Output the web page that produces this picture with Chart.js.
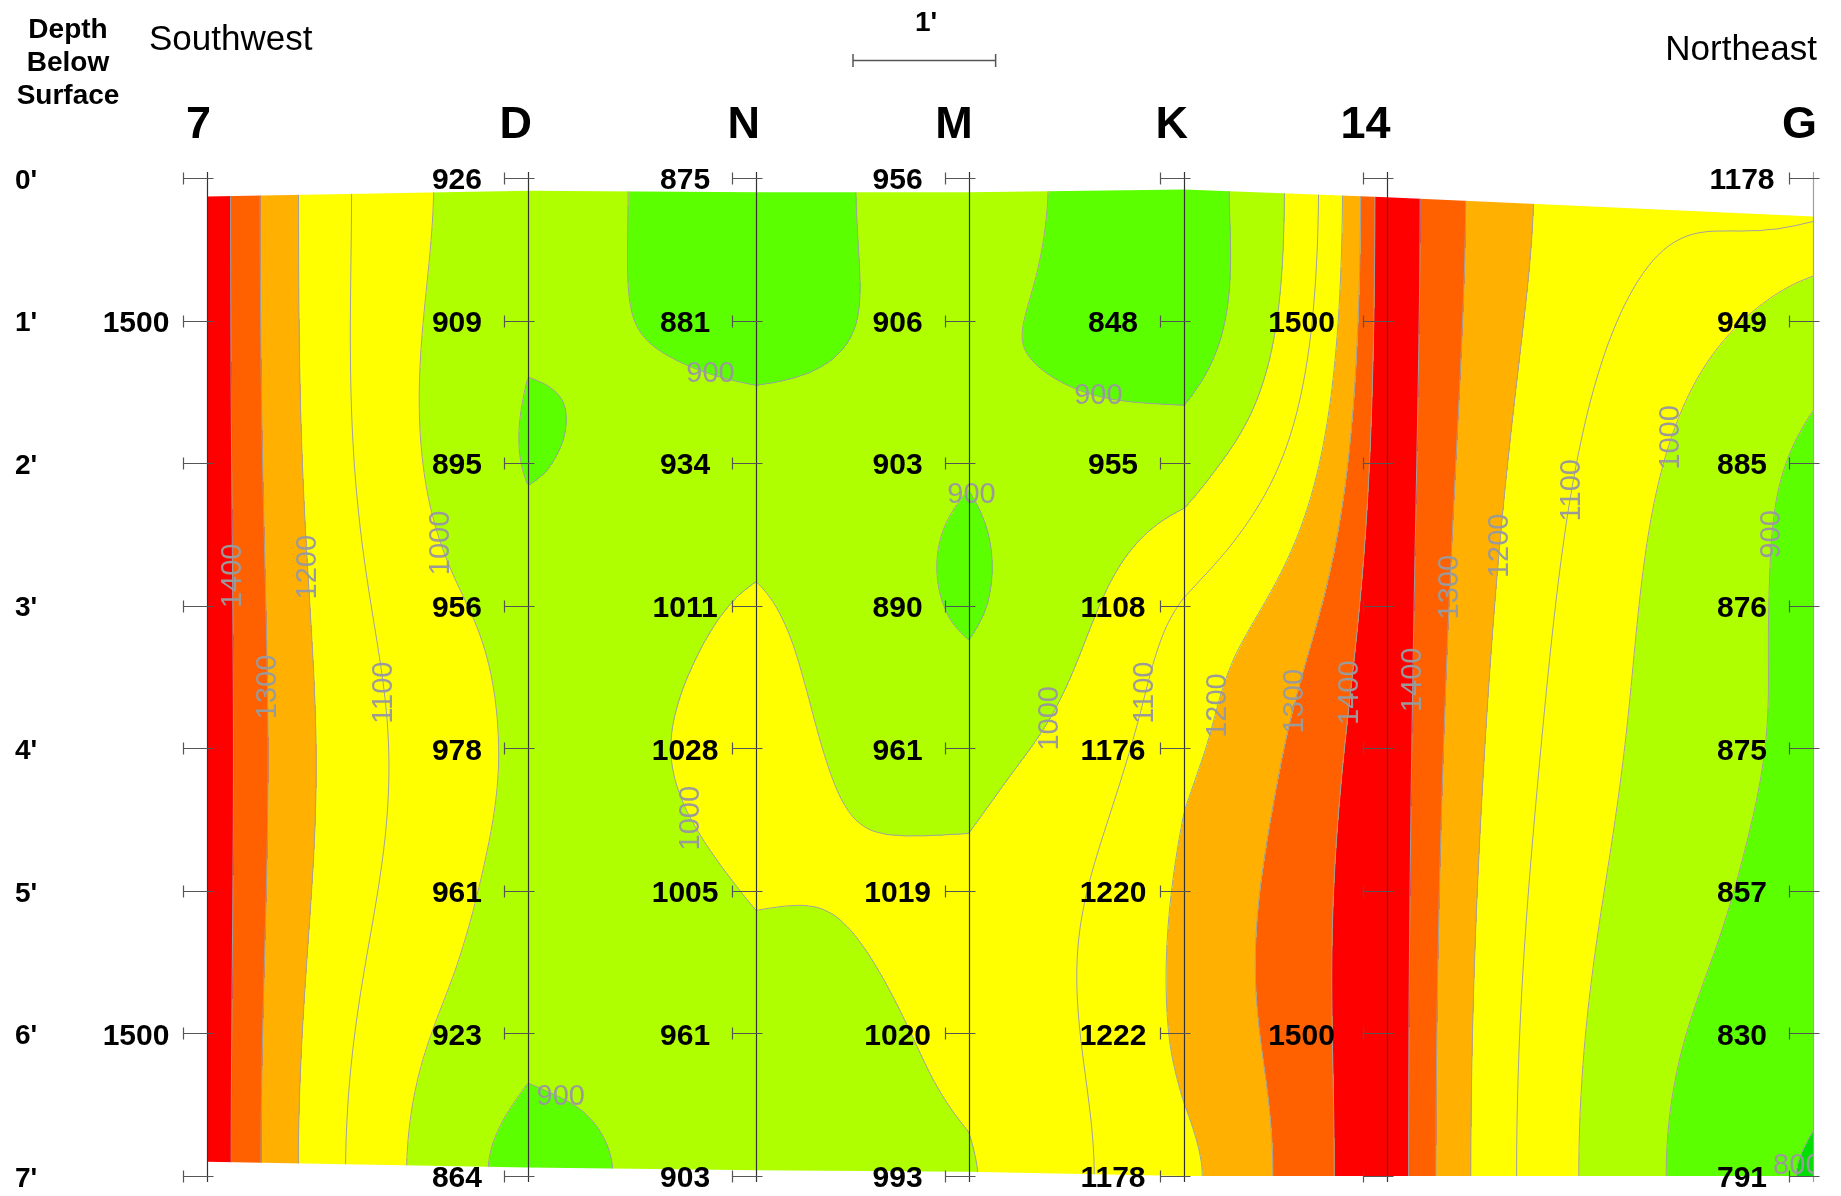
<!DOCTYPE html>
<html>
<head>
<meta charset="utf-8">
<script src="https://cdn.jsdelivr.net/npm/chart.js@4.4.0/dist/chart.umd.min.js"></script>
<style>
  html, body { margin: 0; padding: 0; background: #fff; }
</style>
</head>
<body>
<canvas id="section" width="1841" height="1196"></canvas>
<script>
// boreholes along the section, southwest -> northeast
const boreholes = ['7', 'D', 'N', 'M', 'K', '14', 'G'];
// position of each borehole along the section, feet from borehole 7
const boreholeFt = [0, 2.25, 3.85, 5.34, 6.85, 8.27, 11.26];
// depth of the readings, feet below surface
const depthsFt = [0, 1, 2, 3, 4, 5, 6, 7];
const depthLabels = ["0'", "1'", "2'", "3'", "4'", "5'", "6'", "7'"];

// readings per borehole (null = no number printed on the section)
const reading7  = [null, 1500, null, null, null, null, 1500, null];
const readingD  = [926, 909, 895, 956, 978, 961, 923, 864];
const readingN  = [875, 881, 934, 1011, 1028, 1005, 961, 903];
const readingM  = [956, 906, 903, 890, 961, 1019, 1020, 993];
const readingK  = [null, 848, 955, 1108, 1176, 1220, 1222, 1178];
const reading14 = [null, 1500, null, null, null, null, 1500, null];
const readingG  = [1178, 949, 885, 876, 875, 857, 830, 791];
const readings = [reading7, readingD, readingN, readingM, readingK, reading14, readingG];

// top (ground surface) and bottom of the shaded section at each borehole, feet
const surfaceTopFt    = [0.13, 0.09, 0.10, 0.10, 0.08, 0.135, 0.27];
const surfaceBottomFt = [6.90, 6.94, 6.96, 6.97, 7.0, 7.0, 7.0];

// contour levels and the fill between them
const contourLevels = [800, 900, 1000, 1100, 1200, 1300, 1400];
const bandColors = ['#00e000', '#5cff00', '#b0ff00', '#ffff00', '#ffff00', '#ffb000', '#ff6000', '#ff0000'];

// upright contour labels: level, depth, and the gap (between borehole i and i+1) they sit in
const riseLabelLevel = [1400, 1300, 1200, 1100, 1000, 1000, 1000, 1100, 1200, 1300, 1400, 1400, 1300, 1200, 1100, 1000, 900];
const riseLabelDepth = [2.79, 3.57, 2.73, 3.61, 2.56, 4.49, 3.79, 3.61, 3.70, 3.67, 3.61, 3.52, 2.87, 2.58, 2.19, 1.82, 2.50];
const riseLabelGap   = [0, 0, 0, 0, 0, 1, 3, 3, 4, 4, 4, 5, 5, 5, 5, 5, 5];
// flat contour labels on the closed lows: level, position along section, depth to start looking
const flatLabelLevel = [900, 900, 900, 900, 800];
const flatLabelFt    = [3.53, 6.25, 5.36, 2.48, 11.15];
const flatLabelFrom  = [0.5, 0.5, 1.5, 5.5, 5.5];

// gridding: values are blended in 1/(v - SHIFT) so that the highs fall off fast,
// and each log is smoothed more the further it is from the point being gridded
const SHIFT = 550;
const SPREAD = 0.8;
const toG = v => 1 / (v - SHIFT);
const fromG = g => SHIFT + 1 / g;

// fill the gaps of a borehole log: straight line between the readings
// above and below, last reading carried on past the ends
function columnProfile(vals) {
  return vals.map((v, k) => {
    if (v !== null) return v;
    let up = k - 1; while (up >= 0 && vals[up] === null) up--;
    let dn = k + 1; while (dn < vals.length && vals[dn] === null) dn++;
    if (up < 0) return vals[dn];
    if (dn >= vals.length) return vals[up];
    const t = (depthsFt[k] - depthsFt[up]) / (depthsFt[dn] - depthsFt[up]);
    return vals[up] + t * (vals[dn] - vals[up]);
  });
}

// Catmull-Rom through one log (in blend space)
function smoothLog(g, d) {
  const last = g.length - 1;
  d = Math.max(depthsFt[0], Math.min(depthsFt[last], d));
  const k = Math.min(last - 1, Math.floor(d));
  const t = d - depthsFt[k];
  const p0 = g[Math.max(0, k - 1)], p1 = g[k], p2 = g[k + 1], p3 = g[Math.min(last, k + 2)];
  return 0.5 * (2 * p1 + (-p0 + p2) * t + (2 * p0 - 5 * p1 + 4 * p2 - p3) * t * t + (-p0 + 3 * p1 - 3 * p2 + p3) * t * t * t);
}

// tables: log b, blur level s (sigma = s * SIG_STEP ft), depth sample i (DD ft)
const DD = 0.04, SIG_STEP = 0.1, SIG_LEVELS = 31;
const nDepth = Math.round(7 / DD) + 1;
const tables = readings.map(col => {
  const g = columnProfile(col).map(toG);
  const base = [];
  for (let i = 0; i < nDepth; i++) base.push(smoothLog(g, i * DD));
  const levels = [Float64Array.from(base)];
  for (let s = 1; s < SIG_LEVELS; s++) {
    const sig = s * SIG_STEP / DD;
    const half = Math.ceil(3 * sig);
    const out = new Float64Array(nDepth);
    for (let i = 0; i < nDepth; i++) {
      let sum = 0, wsum = 0;
      for (let o = -half; o <= half; o++) {
        let j = i + o;
        while (j < 0 || j >= nDepth) j = j < 0 ? -j : 2 * (nDepth - 1) - j;
        const w = Math.exp(-0.5 * (o / sig) * (o / sig));
        sum += w * base[j]; wsum += w;
      }
      out[i] = sum / wsum;
    }
    levels.push(out);
  }
  return levels;
});

function logAt(b, d, sigFt) {
  const fs = Math.min(SIG_LEVELS - 1, sigFt / SIG_STEP);
  const s0 = Math.min(SIG_LEVELS - 2, Math.floor(fs)), ts = fs - s0;
  const fi = Math.max(0, Math.min(nDepth - 1, d / DD));
  const i0 = Math.min(nDepth - 2, Math.floor(fi)), ti = fi - i0;
  const A = tables[b][s0], B = tables[b][s0 + 1];
  const a = A[i0] * (1 - ti) + A[i0 + 1] * ti;
  const c = B[i0] * (1 - ti) + B[i0 + 1] * ti;
  return a * (1 - ts) + c * ts;
}

function field(x, d) {
  let b = 0;
  while (b < boreholeFt.length - 2 && x > boreholeFt[b + 1]) b++;
  const x0 = boreholeFt[b], x1 = boreholeFt[b + 1];
  const dl = Math.max(0, Math.min(x1 - x0, x - x0)), dr = (x1 - x0) - dl;
  const t = dl / (x1 - x0);
  const g = logAt(b, d, SPREAD * dl) * (1 - t) + logAt(b + 1, d, SPREAD * dr) * t;
  return fromG(g);
}

function bandOf(v) {
  let k = 0;
  while (k < contourLevels.length && v >= contourLevels[k]) k++;
  return k;
}

function findCrossingX(level, d, x0, x1) {
  const step = 0.005;
  let prev = field(x0, d) - level;
  for (let x = x0 + step; x <= x1; x += step) {
    const cur = field(x, d) - level;
    if ((prev < 0) !== (cur < 0)) return x - step + step * prev / (prev - cur);
    prev = cur;
  }
  return null;
}
function findCrossingD(level, x, d0, d1) {
  const step = 0.005;
  let prev = field(x, d0) - level;
  for (let d = d0 + step; d <= d1; d += step) {
    const cur = field(x, d) - level;
    if ((prev < 0) !== (cur < 0)) return d - step + step * prev / (prev - cur);
    prev = cur;
  }
  return null;
}

const FONT = '"Liberation Sans", Arial, sans-serif';
// horizontal place of the printed readings, px left of each borehole line
const readingOffsetPx = [71, 71, 71, 71, 71, 85, 71];

const sectionPlugin = {
  id: 'section',
  beforeDatasetsDraw(chart) {
    const ctx = chart.ctx;
    const xs = chart.scales.x, ys = chart.scales.y;
    const area = chart.chartArea;
    const w = Math.round(area.right - area.left) + 2, h = Math.round(area.bottom - area.top) + 2;

    // values on a 2 px grid, used for both the fill and the contour lines
    const step = 2;
    const nx = Math.ceil(w / step) + 2, ny = Math.ceil(h / step) + 2;
    const gx = [], gy = [];
    for (let i = 0; i < nx; i++) gx.push(area.left + i * step);
    for (let j = 0; j < ny; j++) gy.push(area.top + j * step);
    const grid = new Float64Array(nx * ny);
    for (let j = 0; j < ny; j++) {
      const d = ys.getValueForPixel(gy[j]);
      for (let i = 0; i < nx; i++) grid[j * nx + i] = field(xs.getValueForPixel(gx[i]), d);
    }

    // colour fill
    const off = document.createElement('canvas');
    off.width = w; off.height = h;
    const octx = off.getContext('2d');
    const img = octx.createImageData(w, h);
    const rgb = bandColors.map(c => [parseInt(c.slice(1, 3), 16), parseInt(c.slice(3, 5), 16), parseInt(c.slice(5, 7), 16)]);
    for (let py = 0; py < h; py++) {
      const fj = py / step, j0 = Math.floor(fj), tj = fj - j0;
      for (let px = 0; px < w; px++) {
        const fi = px / step, i0 = Math.floor(fi), ti = fi - i0;
        const a = grid[j0 * nx + i0], b = grid[j0 * nx + i0 + 1];
        const c = grid[(j0 + 1) * nx + i0], e = grid[(j0 + 1) * nx + i0 + 1];
        const v = (a * (1 - ti) + b * ti) * (1 - tj) + (c * (1 - ti) + e * ti) * tj;
        const col = rgb[bandOf(v)];
        const o = (py * w + px) * 4;
        img.data[o] = col[0]; img.data[o + 1] = col[1]; img.data[o + 2] = col[2]; img.data[o + 3] = 255;
      }
    }
    octx.putImageData(img, 0, 0);

    ctx.save();
    ctx.beginPath();
    boreholeFt.forEach((x, i) => {
      const px = xs.getPixelForValue(x), py = ys.getPixelForValue(surfaceTopFt[i]);
      if (i === 0) ctx.moveTo(px, py); else ctx.lineTo(px, py);
    });
    for (let i = boreholeFt.length - 1; i >= 0; i--) {
      ctx.lineTo(xs.getPixelForValue(boreholeFt[i]), ys.getPixelForValue(surfaceBottomFt[i]));
    }
    ctx.closePath();
    ctx.clip();
    ctx.drawImage(off, area.left, area.top);

    // contour lines (marching squares)
    ctx.strokeStyle = '#a0a0a0';
    ctx.lineWidth = 1;
    contourLevels.forEach(level => {
      ctx.beginPath();
      for (let j = 0; j < ny - 1; j++) {
        for (let i = 0; i < nx - 1; i++) {
          const a = grid[j * nx + i], b = grid[j * nx + i + 1];
          const c = grid[(j + 1) * nx + i + 1], d = grid[(j + 1) * nx + i];
          const cut = [];
          const edge = (v1, v2, x1, y1, x2, y2) => {
            if ((v1 < level) !== (v2 < level)) {
              const t = (level - v1) / (v2 - v1);
              cut.push([x1 + t * (x2 - x1), y1 + t * (y2 - y1)]);
            }
          };
          edge(a, b, gx[i], gy[j], gx[i + 1], gy[j]);
          edge(b, c, gx[i + 1], gy[j], gx[i + 1], gy[j + 1]);
          edge(c, d, gx[i + 1], gy[j + 1], gx[i], gy[j + 1]);
          edge(d, a, gx[i], gy[j + 1], gx[i], gy[j]);
          if (cut.length >= 2) { ctx.moveTo(cut[0][0], cut[0][1]); ctx.lineTo(cut[1][0], cut[1][1]); }
          if (cut.length === 4) { ctx.moveTo(cut[2][0], cut[2][1]); ctx.lineTo(cut[3][0], cut[3][1]); }
        }
      }
      ctx.stroke();
    });

    // contour labels
    ctx.fillStyle = '#9a9a9a';
    ctx.font = '29px ' + FONT;
    ctx.textAlign = 'center';
    ctx.textBaseline = 'middle';
    riseLabelLevel.forEach((level, k) => {
      const g = riseLabelGap[k];
      const x = findCrossingX(level, riseLabelDepth[k], boreholeFt[g], boreholeFt[g + 1]);
      if (x === null) return;
      ctx.save();
      ctx.translate(xs.getPixelForValue(x), ys.getPixelForValue(riseLabelDepth[k]));
      ctx.rotate(-Math.PI / 2);
      ctx.fillText(String(level), 0, 0);
      ctx.restore();
    });
    flatLabelLevel.forEach((level, k) => {
      const d = findCrossingD(level, flatLabelFt[k], flatLabelFrom[k], 7);
      if (d === null) return;
      ctx.fillText(String(level), xs.getPixelForValue(flatLabelFt[k]), ys.getPixelForValue(d));
    });
    ctx.restore();
  },

  afterDraw(chart) {
    const ctx = chart.ctx;
    const xs = chart.scales.x, ys = chart.scales.y;
    ctx.save();

    // borehole lines and depth ticks
    boreholeFt.forEach((x, b) => {
      const px = Math.round(xs.getPixelForValue(x)) + 0.5;
      ctx.strokeStyle = b === boreholeFt.length - 1 ? '#a0a0a0' : '#333';
      ctx.lineWidth = 1.2;
      ctx.beginPath();
      ctx.moveTo(px, ys.getPixelForValue(0) - 6);
      ctx.lineTo(px, ys.getPixelForValue(7) + 6);
      ctx.stroke();
      ctx.strokeStyle = '#555';
      depthsFt.forEach(d => {
        const py = Math.round(ys.getPixelForValue(d)) + 0.5;
        ctx.beginPath();
        ctx.moveTo(px - 24, py); ctx.lineTo(px + 6, py);
        ctx.moveTo(px - 24, py - 6); ctx.lineTo(px - 24, py + 6);
        ctx.stroke();
      });
    });

    // readings
    ctx.fillStyle = '#000';
    ctx.font = 'bold 30px ' + FONT;
    ctx.textAlign = 'center';
    ctx.textBaseline = 'middle';
    readings.forEach((col, b) => {
      const px = xs.getPixelForValue(boreholeFt[b]);
      col.forEach((v, k) => {
        if (v === null) return;
        ctx.fillText(String(v), px - readingOffsetPx[b], ys.getPixelForValue(depthsFt[k]) + 3);
      });
    });

    // borehole names
    ctx.font = 'bold 45px ' + FONT;
    ctx.textAlign = 'right';
    boreholes.forEach((name, b) => {
      ctx.fillText(name, xs.getPixelForValue(boreholeFt[b]) + 4, 126);
    });

    // depth axis
    ctx.font = 'bold 28px ' + FONT;
    ctx.textAlign = 'left';
    depthLabels.forEach((t, k) => ctx.fillText(t, 15, ys.getPixelForValue(depthsFt[k]) + 3));

    // header
    ctx.textAlign = 'center';
    ['Depth', 'Below', 'Surface'].forEach((t, i) => ctx.fillText(t, 68, 30 + i * 33));
    ctx.fillText("1'", 926, 23);
    ctx.font = '35px ' + FONT;
    ctx.textAlign = 'left';
    ctx.fillText('Southwest', 149, 40);
    ctx.textAlign = 'right';
    ctx.fillText('Northeast', 1817, 50);

    // one-foot scale bar
    const bar = xs.getPixelForValue(1) - xs.getPixelForValue(0);
    ctx.strokeStyle = '#555';
    ctx.lineWidth = 1.5;
    ctx.beginPath();
    ctx.moveTo(853, 60.5); ctx.lineTo(853 + bar, 60.5);
    ctx.moveTo(853, 54); ctx.lineTo(853, 67);
    ctx.moveTo(853 + bar, 54); ctx.lineTo(853 + bar, 67);
    ctx.stroke();
    ctx.restore();
  }
};

const points = [];
readings.forEach((col, b) => col.forEach((v, k) => {
  if (v !== null) points.push({ x: boreholeFt[b], y: depthsFt[k], v: v });
}));

new Chart(document.getElementById('section'), {
  type: 'scatter',
  data: {
    datasets: [{
      label: 'Readings',
      data: points,
      pointRadius: 0
    }]
  },
  options: {
    responsive: false,
    animation: false,
    events: [],
    layout: { padding: { left: 207, right: 28, top: 178, bottom: 20 } },
    scales: {
      x: { type: 'linear', min: 0, max: boreholeFt[boreholeFt.length - 1], display: false },
      y: { type: 'linear', min: 0, max: 7, reverse: true, display: false }
    },
    plugins: {
      legend: { display: false },
      tooltip: { enabled: false }
    }
  },
  plugins: [sectionPlugin]
});
</script>
</body>
</html>
